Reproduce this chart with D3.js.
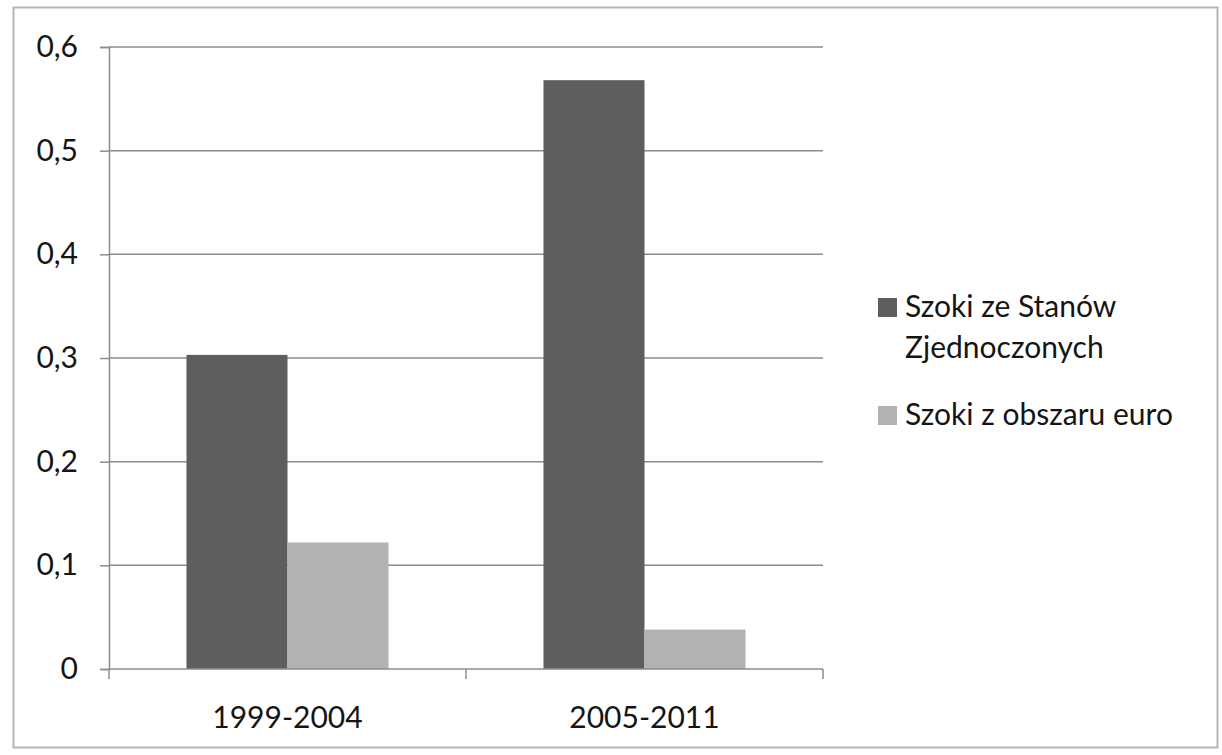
<!DOCTYPE html>
<html>
<head>
<meta charset="utf-8">
<script src="https://cdn.jsdelivr.net/npm/d3@7"></script>
<style>
  body { margin: 0; background: #fff; }
  svg { display: block; font-family: Lato, "Open Sans", sans-serif; }
</style>
</head>
<body>
<svg id="chart" width="1222" height="755"></svg>
<script>
const categories = ['1999-2004', '2005-2011']
const seriesNames = ['Szoki ze Stanów Zjednoczonych', 'Szoki z obszaru euro']
const usShocks = [0.303, 0.568]
const euroShocks = [0.122, 0.038]
const yTicks = [0, 0.1, 0.2, 0.3, 0.4, 0.5, 0.6]
const colors = ['#5e5e5e', '#b2b2b2']

const svg = d3.select('#chart')
const margin = {top: 47, left: 109}
const plotWidth = 714
const plotHeight = 622
const fontSize = 30

// chart frame
svg.append('rect')
  .attr('x', 13.5).attr('y', 7.5)
  .attr('width', 1204).attr('height', 740)
  .attr('fill', '#fff')
  .attr('stroke', '#b5b5b5')
  .attr('stroke-width', 2)

const g = svg.append('g')
  .attr('transform', `translate(${margin.left}, ${margin.top})`)

const x0 = d3.scaleBand().domain(categories).range([0, plotWidth]).paddingInner(0).paddingOuter(0)
const x1 = d3.scaleBand().domain([0, 1]).range([0, x0.bandwidth()]).paddingInner(0).paddingOuter(0.767)
const y = d3.scaleLinear().domain([0, 0.6]).range([plotHeight, 0])

const fmt = d => d === 0 ? '0' : d3.format('.1f')(d).replace('.', ',')

// gridlines
g.append('g')
  .selectAll('line')
  .data(yTicks.filter(d => d > 0))
  .join('line')
  .attr('x1', 0).attr('x2', plotWidth)
  .attr('y1', d => y(d)).attr('y2', d => y(d))
  .attr('stroke', '#8c8c8c')
  .attr('stroke-width', 1.5)

// bars
const data = categories.map((c, i) => ({cat: c, values: [usShocks[i], euroShocks[i]]}))
g.append('g')
  .selectAll('g')
  .data(data)
  .join('g')
  .attr('transform', d => `translate(${x0(d.cat)}, 0)`)
  .selectAll('rect')
  .data(d => d.values.map((v, k) => ({k, v})))
  .join('rect')
  .attr('x', d => x1(d.k))
  .attr('width', x1.bandwidth())
  .attr('y', d => y(d.v))
  .attr('height', d => plotHeight - y(d.v))
  .attr('fill', d => colors[d.k])

// y axis
const yAxis = d3.axisLeft(y).tickValues(yTicks).tickFormat(fmt).tickSize(9).tickPadding(22)
const yg = g.append('g').call(yAxis)
yg.select('.domain').attr('stroke', '#8c8c8c').attr('stroke-width', 1.5)
yg.selectAll('.tick line').attr('stroke', '#8c8c8c').attr('stroke-width', 1.5)
yg.selectAll('.tick text').attr('font-size', fontSize).attr('fill', '#151515').attr('font-family', 'Lato, sans-serif')

// x axis with ticks at band boundaries
const xg = g.append('g').attr('transform', `translate(0, ${plotHeight})`)
xg.append('line').attr('x1', 0).attr('x2', plotWidth)
  .attr('stroke', '#8c8c8c').attr('stroke-width', 1.5)
xg.selectAll('line.tk')
  .data([0, ...categories.map(c => x0(c) + x0.bandwidth())])
  .join('line')
  .attr('class', 'tk')
  .attr('x1', d => d).attr('x2', d => d)
  .attr('y1', 0).attr('y2', 10)
  .attr('stroke', '#8c8c8c').attr('stroke-width', 1.5)
xg.selectAll('text')
  .data(categories)
  .join('text')
  .attr('x', d => x0(d) + x0.bandwidth() / 2)
  .attr('y', 59)
  .attr('text-anchor', 'middle')
  .attr('font-size', fontSize)
  .attr('fill', '#151515')
  .text(d => d)

// legend
const legend = svg.append('g').attr('transform', 'translate(878, 0)')
const legendRows = [
  {lines: ['Szoki ze Stanów', 'Zjednoczonych'], baseline: 317},
  {lines: ['Szoki z obszaru euro'], baseline: 425}
]
legendRows.forEach((row, i) => {
  legend.append('rect')
    .attr('x', 0).attr('y', row.baseline - 19)
    .attr('width', 19).attr('height', 19)
    .attr('fill', colors[i])
  const t = legend.append('text')
    .attr('x', 27).attr('y', row.baseline)
    .attr('font-size', fontSize).attr('fill', '#151515')
  row.lines.forEach((l, j) => {
    t.append('tspan').attr('x', 27).attr('dy', j === 0 ? 0 : 41).text(l)
  })
})
</script>
</body>
</html>
